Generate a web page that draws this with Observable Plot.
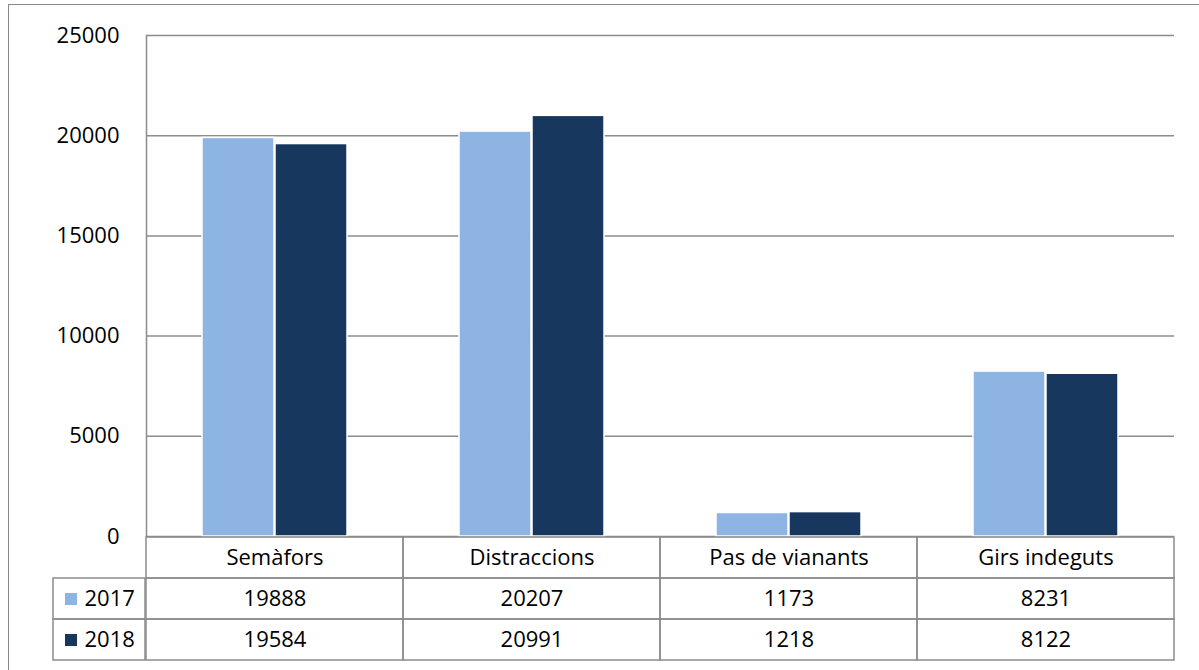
<!DOCTYPE html>
<html>
<head>
<meta charset="utf-8">
<script src="https://cdn.jsdelivr.net/npm/d3@7"></script>
<script src="https://cdn.jsdelivr.net/npm/@observablehq/plot@0.6"></script>
<style>
  html, body { margin: 0; padding: 0; background: #fff; }
  #wrap { position: relative; width: 1199px; height: 670px; overflow: hidden; font-family: "Open Sans", sans-serif; }
  #border { position: absolute; left: 8px; top: 4px; width: 1300px; height: 800px; border-left: 1.5px solid #8a8a8a; border-top: 1.5px solid #8a8a8a; }
  #chart { position: absolute; left: 0; top: 0; }
  #table { position: absolute; left: 0; top: 535px; }
</style>
</head>
<body>
<div id="wrap">
  <div id="border"></div>
  <div id="chart"></div>
  <div id="table"></div>
</div>
<script>
const categories = ["Semàfors", "Distraccions", "Pas de vianants", "Girs indeguts"];
const years = ["2017", "2018"];
const values2017 = [19888, 20207, 1173, 8231];
const values2018 = [19584, 20991, 1218, 8122];
const yTicks = [0, 5000, 10000, 15000, 20000, 25000];
const colors = ["#8EB4E3", "#17375E"];

const seriesValues = {"2017": values2017, "2018": values2018};
const data = years.flatMap(yr => categories.map((c, i) => ({cat: c, year: yr, value: seriesValues[yr][i]})));

const gray = "#8c8c8c";
const font = "Open Sans, sans-serif";
const fs = 22;

const chart = Plot.plot({
  width: 1199,
  height: 537,
  marginTop: 35,
  marginBottom: 1,
  marginLeft: 145,
  marginRight: 25,
  style: {fontFamily: font, fontSize: fs + "px", color: "#000", background: "transparent", overflow: "visible"},
  fx: {domain: categories, padding: 0, axis: null},
  x: {domain: years, paddingInner: 0.02, paddingOuter: 0.75, axis: null},
  y: {domain: [0, 25000], axis: null},
  color: {domain: years, range: colors},
  marks: [
    Plot.gridY(yTicks, {stroke: gray, strokeOpacity: 1, strokeWidth: 1.5}),
    Plot.frame({anchor: "left", facet: "super", stroke: gray, strokeWidth: 1.5}),
    Plot.barY(data, {fx: "cat", x: "year", y: "value", fill: "year", stroke: "white", strokeWidth: 1.5,
      style: {filter: "drop-shadow(2px 1px 2px rgba(0,0,0,0.22))"}}),
    Plot.axisY(yTicks, {tickSize: 0, tickPadding: 27, fontSize: fs, tickFormat: d => String(d), label: null})
  ]
});
document.getElementById("chart").appendChild(chart);

const rows = ["header", ...years];
const cells = [
  ...categories.map(c => ({cat: c, row: "header", text: c})),
  ...data.map(d => ({cat: d.cat, row: d.year, text: String(d.value)}))
];

const table = Plot.plot({
  width: 1199,
  height: 126,
  marginTop: 1,
  marginBottom: 1,
  marginLeft: 145,
  marginRight: 25,
  style: {fontFamily: font, fontSize: fs + "px", color: "#000", background: "transparent", overflow: "visible"},
  x: {domain: categories, padding: 0, axis: null},
  y: {domain: rows, padding: 0, axis: null},
  color: {domain: years, range: colors},
  marks: [
    Plot.cell(cells, {x: "cat", y: "row", fill: "none", stroke: gray, strokeWidth: 1.5}),
    Plot.cell(years, {y: d => d, fill: "none", stroke: gray, strokeWidth: 1.5, insetLeft: -92, insetRight: 1029}),
    Plot.text(cells, {x: "cat", y: "row", text: "text", fontSize: fs, fill: "#000"}),
    Plot.dot(years, {y: d => d, frameAnchor: "left", dx: -74.5, symbol: "square", r: 6.8, fill: d => d, stroke: null}),
    Plot.text(years, {y: d => d, frameAnchor: "left", dx: -61, text: d => d, textAnchor: "start", fontSize: fs, fill: "#000"})
  ]
});
document.getElementById("table").appendChild(table);
</script>
</body>
</html>
